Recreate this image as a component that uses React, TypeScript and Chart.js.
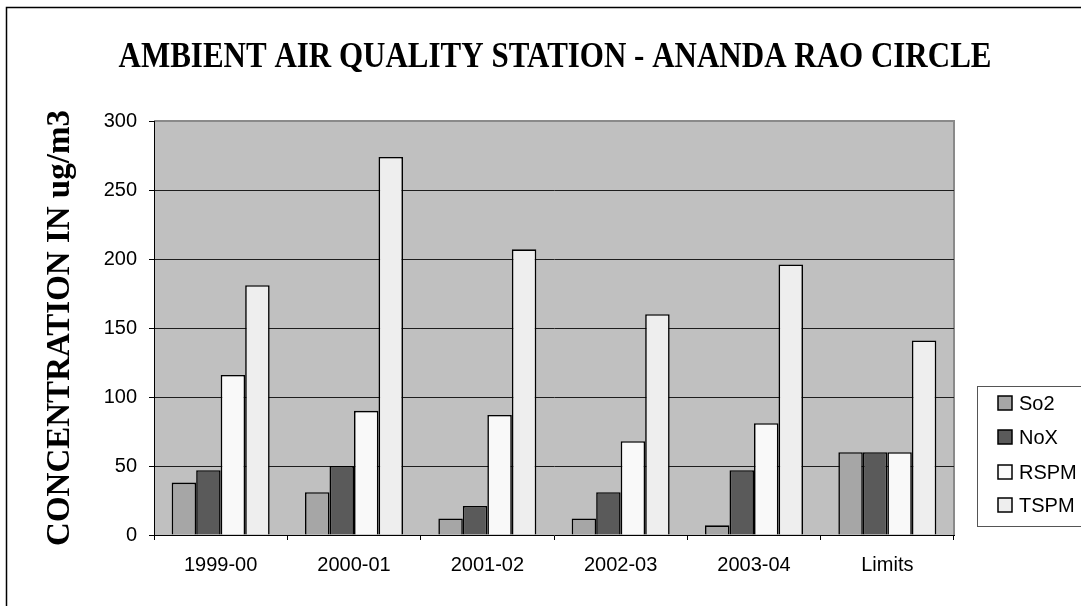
import React, { useEffect, useRef } from "react";
import { Chart, registerables } from "chart.js";

Chart.register(...registerables);

const categories = ["1999-00", "2000-01", "2001-02", "2002-03", "2003-04", "Limits"];
const so2 = [38, 31, 12, 12, 7, 60];
const nox = [47, 50, 21, 31, 47, 60];
const rspm = [116, 90, 87, 68, 81, 60];
const tspm = [181, 274, 207, 160, 196, 141];
const seriesNames = ["So2", "NoX", "RSPM", "TSPM"];
const seriesColors = ["#A6A6A6", "#5A5A5A", "#F9F9F9", "#EEEEEE"];
const yTicks = [0, 50, 100, 150, 200, 250, 300];
const titleText = "AMBIENT AIR QUALITY STATION - ANANDA RAO CIRCLE";
const yTitleText = "CONCENTRATION IN ug/m3";

const W = 1081;
const H = 606;

const framePlugin = {
  id: "frame",
  beforeDraw(chart: any) {
    const ctx = chart.ctx;
    const a = chart.chartArea;
    ctx.save();
    ctx.fillStyle = "#FFFFFF";
    ctx.fillRect(0, 0, W, H);
    // outer frame (left and top)
    ctx.strokeStyle = "#000";
    ctx.lineWidth = 1.5;
    ctx.beginPath();
    ctx.moveTo(6.5, H);
    ctx.lineTo(6.5, 7.5);
    ctx.lineTo(W, 7.5);
    ctx.stroke();
    // chart title
    ctx.save();
    ctx.fillStyle = "#000";
    ctx.font = "bold 31px 'Liberation Serif', 'Times New Roman', serif";
    ctx.textAlign = "center";
    ctx.textBaseline = "alphabetic";
    ctx.translate(555, 67);
    ctx.scale(1, 1.15);
    ctx.fillText(titleText, 0, 0);
    ctx.restore();
    // plot background
    ctx.fillStyle = "#C0C0C0";
    ctx.fillRect(a.left, a.top, a.right - a.left, a.bottom - a.top);
    ctx.strokeStyle = "#8A8A8A";
    ctx.lineWidth = 2;
    ctx.beginPath();
    ctx.moveTo(a.left, a.top);
    ctx.lineTo(a.right, a.top);
    ctx.lineTo(a.right, a.bottom);
    ctx.stroke();
    ctx.restore();
  },
  afterDraw(chart: any) {
    const ctx = chart.ctx;
    ctx.save();
    // legend box
    const bx = 977.5, by = 386.5, bw = 120, bh = 140;
    ctx.fillStyle = "#FFFFFF";
    ctx.fillRect(bx, by, bw, bh);
    ctx.strokeStyle = "#555";
    ctx.lineWidth = 1;
    ctx.strokeRect(bx, by, bw, bh);
    const rows = [403, 437, 472, 505];
    ctx.font = "20px 'Liberation Sans', Arial, sans-serif";
    ctx.textBaseline = "middle";
    ctx.textAlign = "left";
    chart.data.datasets.forEach((ds: any, i: number) => {
      const cy = rows[i];
      ctx.fillStyle = ds.backgroundColor;
      ctx.fillRect(998, cy - 7, 14, 14);
      ctx.strokeStyle = "#000";
      ctx.lineWidth = 1.5;
      ctx.strokeRect(998, cy - 7, 14, 14);
      ctx.fillStyle = "#000";
      ctx.fillText(ds.label, 1019, cy + 1);
    });
    ctx.restore();
  },
};

export default function App() {
  const ref = useRef<HTMLCanvasElement | null>(null);
  useEffect(() => {
    if (!ref.current) return;
    const values = [so2, nox, rspm, tspm];
    const chart = new Chart(ref.current, {
      type: "bar",
      data: {
        labels: categories,
        datasets: seriesNames.map((name, i) => ({
          label: name,
          data: values[i],
          backgroundColor: seriesColors[i],
          borderColor: "#000",
          borderWidth: 1.6,
          barPercentage: 1,
          categoryPercentage: 0.735,
        })),
      },
      options: {
        responsive: false,
        animation: false,
        devicePixelRatio: 1,
        layout: { padding: { left: 0, right: W - 954, top: 121, bottom: 0 } },
        plugins: {
          legend: { display: false },
          tooltip: { enabled: false },
          title: { display: false },
        },
        scales: {
          x: {
            grid: {
              offset: true,
              drawOnChartArea: false,
              drawTicks: true,
              tickLength: 5,
              tickColor: "#000",
            },
            border: { color: "#000", width: 1 },
            ticks: {
              color: "#000",
              padding: 13,
              font: { family: "'Liberation Sans', Arial, sans-serif", size: 20 },
            },
            afterFit(scale: any) {
              scale.height = H - 535;
            },
          },
          y: {
            min: 0,
            max: 300,
            afterBuildTicks(scale: any) {
              scale.ticks = yTicks.map((v) => ({ value: v }));
            },
            grid: {
              color: (c: any) => (c.tick && (c.tick.value === 0 || c.tick.value === 300) ? "rgba(0,0,0,0)" : "#1E1E1E"),
              lineWidth: 1,
              drawTicks: true,
              tickLength: 5,
              tickColor: "#000",
            },
            border: { color: "#000", width: 1 },
            ticks: {
              color: "#000",
              padding: 12,
              font: { family: "'Liberation Sans', Arial, sans-serif", size: 20 },
            },
            title: {
              display: true,
              text: yTitleText,
              color: "#000",
              font: { family: "'Liberation Serif', 'Times New Roman', serif", size: 33, weight: "bold", lineHeight: 1 },
              padding: { top: 44, bottom: 0 },
            },
            afterFit(scale: any) {
              scale.width = 154;
            },
          },
        },
      },
      plugins: [framePlugin],
    });
    return () => chart.destroy();
  }, []);
  return (
    <div style={{ position: "fixed", left: 0, top: 0, width: W, height: H, background: "#fff" }}>
      <canvas ref={ref} width={W} height={H} style={{ display: "block", width: W, height: H }} />
    </div>
  );
}
